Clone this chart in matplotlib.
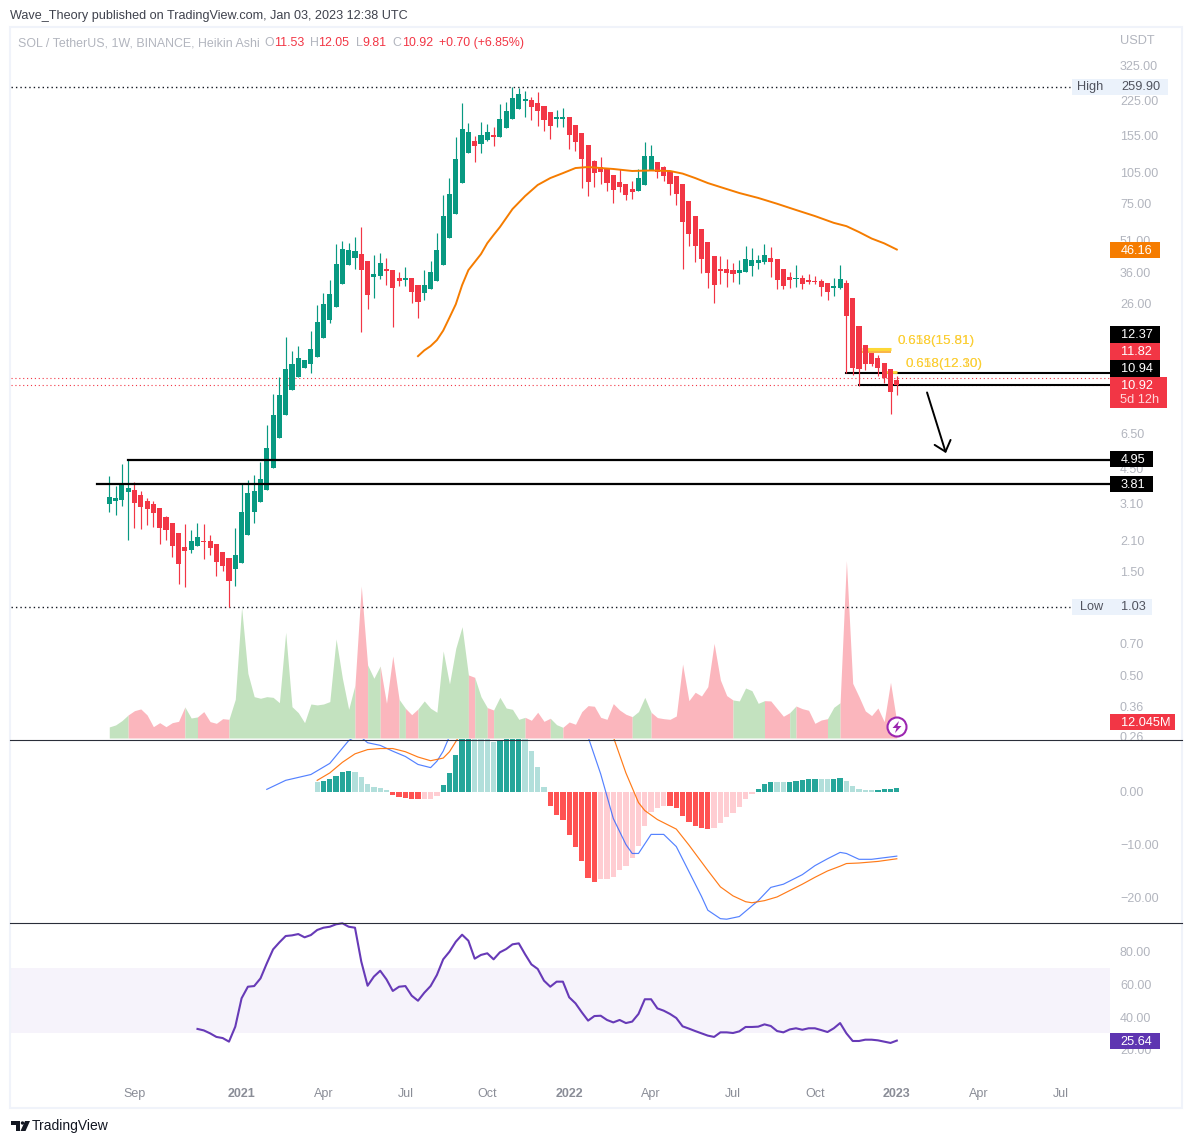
import matplotlib
matplotlib.use('Agg')
import matplotlib.pyplot as plt
from matplotlib.lines import Line2D
from matplotlib.patches import Rectangle, Circle, Polygon
from matplotlib.ticker import NullLocator
import numpy as np

plt.rcParams['font.family'] = ['Liberation Sans', 'DejaVu Sans']

# Weekly Heikin Ashi candles, one value per week
opens = [3.09, 3.19, 3.23, 3.51, 3.59, 3.40, 3.19, 3.09, 2.96, 2.69,
         2.52, 2.27, 1.95, 1.89, 1.97, 2.08, 2.08, 2.01, 1.85, 1.74,
         1.55, 1.65, 2.22, 2.84, 3.16, 3.59, 4.52, 6.22, 7.95, 10.36,
         11.9, 13.1, 13.64, 14.7, 18.0, 21.8, 25.05, 32.0, 39.1, 42.1,
         44.0, 40.8, 34.5, 34.8, 37.5, 37.1, 34.1, 33.4, 34.1, 31.7,
         29.1, 30.3, 33.1, 39.1, 52.1, 67.3, 93.6, 128.8, 146.3, 141.7,
         148, 155.9, 152.7, 168, 184.9, 205.7, 223.9, 226.4, 219.2, 212.4,
         199.2, 184.9, 184.9, 188.9, 173.5, 159.3, 140.2, 118.3, 111, 108.7,
         101.9, 94.6, 92.6, 87.8, 86, 91.7, 107.5, 117, 111, 106.4,
         100.9, 92.6, 77.3, 65.9, 57.4, 50, 43.1, 37.5, 37.5, 37.1,
         35.9, 36.3, 38.7, 40, 40.4, 42.1, 41.7, 37.5, 34.5, 33.8,
         34.1, 33.4, 33.1, 33.1, 32.4, 30.7, 30.7, 32.4, 27.6, 20.47,
         16.71, 15.39, 14.55, 13.79, 12.97, 11.53]
closes = [3.33, 3.29, 3.86, 3.66, 3.12, 2.99, 2.93, 2.80, 2.39, 2.34,
          1.97, 1.63, 1.87, 2.08, 2.17, 2.06, 1.93, 1.67, 1.60, 1.36,
          1.79, 2.84, 3.47, 3.55, 4.02, 5.60, 7.95, 9.82, 12.97, 13.64,
          14.55, 14.24, 16.05, 21.3, 25.9, 28.8, 39.5, 46.4, 45.9, 45.4,
          37.1, 28.5, 35.5, 40.0, 36.7, 30.7, 33.1, 34.1, 29.4, 26.5,
          31.7, 36.3, 45.9, 65.9, 83.3, 120.8, 166.2, 161, 138.8, 155.9,
          161, 152.7, 184.9, 201.3, 231.2, 241.3, 228.8, 210.1, 201.3, 183,
          171.7, 188.9, 188.9, 155.9, 144.8, 120.8, 94.6, 104.1, 105.2, 93.6,
          86.9, 89.7, 82.3, 85.1, 98.7, 124.7, 124.7, 105.2, 100.9, 92.6,
          83.3, 61.8, 54.4, 47.9, 41.7, 35.9, 31.7, 36.7, 35.9, 35.5,
          37.1, 41.7, 41.3, 41.3, 43.5, 40.4, 33.4, 31.4, 33.4, 34.1,
          32, 32.7, 32.7, 31, 29.4, 31.4, 33.8, 22.8, 13.1, 12.97,
          13.64, 13.64, 13.11, 11.77, 10.15, 10.92]
highs = [4.16, 3.74, 4.72, 4.98, 3.90, 3.55, 3.29, 3.19, 2.96, 2.72,
         2.52, 2.27, 2.50, 2.34, 2.52, 2.50, 2.22, 2.01, 1.85, 1.74,
         2.39, 3.81, 3.98, 4.20, 4.83, 7.14, 9.93, 11.9, 18.2, 15.7,
         16.54, 14.24, 19.4, 25.6, 29.1, 33.4, 48.9, 50.5, 49.4, 52.7,
         58.6, 40.8, 43.5, 44.5, 42.1, 37.1, 36.3, 38.3, 34.1, 31.7,
         37.1, 40.8, 55, 82.3, 98.7, 152.7, 219, 177.2, 154.3, 179,
         175.3, 169.8, 216.9, 221.6, 259.9, 257.1, 249, 233.7, 246.4, 212.4,
         199.2, 203.5, 207.9, 188.9, 173.5, 159.3, 140.2, 119.5, 123.4, 108.7,
         101.9, 108.7, 92.6, 95.6, 108.7, 144.8, 140.2, 117, 112.2, 106.4,
         100.9, 92.6, 77.3, 65.9, 57.4, 50, 43.1, 43.1, 41.7, 40,
         41.3, 47.9, 46.9, 43.5, 48.9, 47.4, 41.7, 37.5, 36.3, 39.1,
         35.2, 35.5, 34.8, 33.8, 32.4, 34.1, 39.1, 33.4, 27.6, 20.47,
         16.71, 15.39, 15.06, 13.79, 12.97, 12.05]
lows = [2.84, 2.75, 3.03, 2.10, 2.39, 2.37, 2.47, 2.42, 2.01, 2.10,
        1.76, 1.32, 1.28, 1.83, 1.97, 1.72, 1.79, 1.44, 1.51, 1.03,
        1.29, 1.65, 2.22, 2.52, 3.16, 3.59, 4.52, 6.22, 7.95, 10.36,
        11.9, 13.1, 12.43, 14.7, 18, 21.1, 25.05, 32, 39.1, 37.5,
        19.2, 24.5, 27.6, 33.8, 31.7, 20.25, 31.4, 31.4, 26.2, 22.3,
        27, 30.3, 33.1, 39.1, 52.1, 67.3, 93.6, 128.8, 117, 128.8,
        146.3, 138.8, 152.7, 168, 184.9, 205.7, 188.9, 183, 171.7, 162.7,
        149.5, 169.8, 169.8, 134.4, 131.6, 88.8, 81.5, 89.7, 92.6, 86,
        75.7, 85.1, 78.2, 79, 86, 91.7, 107.5, 98.7, 95.6, 82.3,
        74.1, 37.5, 47.9, 40.4, 35.9, 30.7, 26.2, 32, 31, 32.7,
        32, 36.3, 34.8, 37.5, 39.5, 34.5, 30.3, 30.3, 30.7, 31,
        30.3, 32, 32, 28.2, 27, 28.2, 30.3, 12.43, 12.17, 10.82,
        12.84, 13.39, 12.03, 11.2, 8.04, 9.81]

# Moving average, read at these weeks
ma_weeks = [49, 50, 51, 52, 53, 54, 55, 56, 57, 58, 59, 60, 61, 62, 64, 66, 68, 70, 72, 74, 76, 78, 80,
            83, 86, 89, 91, 93, 95, 97, 100, 103, 106, 109, 112, 115, 117, 119, 121, 123, 125]
ma_values = [14.86, 15.8, 16.54, 17.63, 19.5, 22.4, 25.8, 31.6, 37.1, 40.4, 44, 49.4, 53.9, 58.6, 71, 81.5, 91.7, 98.7, 104, 109.8, 111, 109.8, 108.7,
             106.4, 107, 106.4, 103.5, 98.7, 93.6, 89.7, 84.2, 79.9, 75.1, 70.3, 65.9, 61.3, 59.2, 55.6, 51.9, 49.3, 46.16]

# Volume in millions, one value per week
volume = [8.3, 9.8, 13, 17.3, 20.5, 21.8, 17.3, 8.5, 11.5, 8.5,
          11.5, 12.5, 23.3, 15, 15.8, 19.8, 12.3, 11, 14.5, 14,
          29, 98, 48.5, 31, 29.8, 31, 30.5, 26.5, 79.3, 23.5,
          19, 11.5, 25.5, 24.8, 25.5, 27.3, 74.3, 44.8, 21.5, 39.8,
          114, 54.8, 44.8, 54, 26, 61.5, 29, 22.3, 17.5, 21.8,
          27.8, 22.3, 19.3, 65.3, 40.5, 67.3, 83.5, 47.3, 45.5, 31,
          22.8, 21, 30.5, 22.5, 21.5, 14, 15.5, 13.3, 19.3, 12.5,
          14.8, 10, 8, 12, 10.3, 19.8, 24.3, 23.8, 15.5, 14,
          25.8, 21, 17.8, 16, 19.8, 30.5, 19.3, 15.3, 14.5, 14,
          16.5, 55.5, 28, 34.3, 31.5, 38.5, 71, 43.5, 31.8, 28.5,
          27.8, 37.5, 35.5, 26, 28, 27.8, 22, 16.3, 19, 24,
          22, 20.8, 11, 13.5, 14.5, 23, 26.5, 133, 41, 31,
          20.3, 16.8, 22.5, 12.3, 41.8, 12.045]
vol_red_spans = [(3, 12), (14, 19), (39, 41), (43, 46), (47, 49), (57, 58), (60, 61),
                 (66, 70), (72, 83), (86, 99), (104, 108), (109, 114), (116, 125)]

# MACD histogram starts at week 33
hist_start = 33
hist_values = [1.95, 2.1, 2.5, 3.1, 3.8, 4.0, 3.8, 2.9, 1.6, 1.0, 0.8, 0.4,
               -0.5, -0.9, -1.1, -1.4, -1.4, -1.4, -1.4, -0.7,
               1.4, 3.5, 6.9, 10.5, 12, 12, 11, 10.5, 9.5, 9.7, 11, 11.5, 11, 10.5,
               7.8, 4.8, 1.0, -2.6, -4.3, -5.2, -8.1, -10.3, -13.1, -16.2, -16.9,
               -16.5, -16.4, -16, -14.8, -13.9, -12.4, -10.1, -6.4, -3.7, -3, -2.6,
               -2.6, -3.1, -4.5, -5.6, -6.4, -6.7, -6.9, -6.7, -5.8, -4.8, -3.9, -2.8, -1.4, -0.3,
               0.6, 1.6, 1.9, 1.9, 1.8, 1.9, 2.1, 2.3, 2.5, 2.5, 2.5, 2.5, 2.5, 2.7,
               2.1, 1.2, 0.6, 0.4, 0.4, 0.4, 0.6, 0.6, 0.8]
hist_light_weeks = [33, 39, 40, 41, 42, 43, 44, 50, 51, 52, 58, 59, 60, 61, 66, 67, 68, 69,
                    78, 79, 80, 81, 82, 83, 84, 85, 86, 87, 88, 96, 97, 98, 99, 100, 101, 102,
                    106, 107, 113, 114, 117, 118, 119, 120, 121]

macd_weeks = [25, 28, 32, 35, 38, 39, 40, 41, 43, 45, 47, 49, 51, 52, 53, 54, 56, 60, 65, 70, 74, 76,
              78, 80, 82, 83, 84, 86, 88, 90, 92, 94, 95, 97, 98, 100, 103, 105, 107, 110, 112, 114,
              116, 117, 119, 121, 123, 125]
macd_values = [0.5, 2.2, 3.3, 5.4, 9.7, 10.4, 10.3, 9.3, 8.8, 7.7, 6.7, 5.2, 4.6, 5.8, 7.7, 10.5, 14, 20, 25, 24, 16, 10.4,
               3.4, -5, -9.9, -11.6, -11.6, -8, -8, -10.3, -15, -19.7, -22.3, -23.9, -24, -23.5, -20.5, -18, -17.4, -15.6, -13.9, -12.6,
               -11.4, -11.6, -12.7, -12.7, -12.4, -12.1]
signal_weeks = [33, 35, 37, 39, 41, 43, 45, 47, 49, 51, 53, 54, 55, 56, 60, 65, 70, 75, 80, 82, 84, 85,
                87, 90, 92, 95, 97, 99, 101, 102, 104, 106, 108, 110, 112, 114, 116, 117, 119, 122, 125]
signal_values = [2.2, 3.6, 5.6, 7.2, 8, 8.2, 8.2, 7.6, 6.6, 5.9, 6.4, 7.6, 9.5, 11.5, 17, 24, 26, 20, 10.4, 3.6, -2, -3.5,
                 -5.2, -7, -10, -14.8, -17.9, -19.6, -20.7, -20.9, -20.5, -19.8, -18.6, -17.4, -16.1, -14.9, -14, -13.5, -13.4, -13.1, -12.6]

# RSI starts at week 14
rsi_start = 14
rsi_values = [32.8, 31.9, 30.1, 27.9, 27.2, 25.0, 34.2, 51.6, 58.7, 59.1, 63.8, 73, 81.6, 85.9, 89.8, 90.2,
              91, 89, 90.4, 93.5, 94.9, 95.5, 97, 97.6, 95.5, 94.9, 74.1, 59.3, 64.9, 68.5, 63.2, 56.1,
              58.7, 59.1, 53.2, 50.1, 55, 59.1, 65.9, 75.5, 80.2, 86.3, 90.6, 86.9, 75.9, 78.2, 79.2, 75.5,
              79.8, 81.8, 84.7, 85.3, 78.6, 72.4, 69.6, 62.4, 58.7, 61.8, 61.8, 52.2, 48.5, 43, 37.9, 40.7,
              40.9, 38.3, 36.8, 38.3, 36.4, 37.3, 42, 51, 51, 45.4, 44, 42, 39.5, 34.4, 33, 31.5,
              30.1, 28.7, 27.9, 30.7, 30.7, 30.3, 31.3, 34, 34, 34.2, 35.6, 34.6, 31.5, 30.7, 32.5, 33.2,
              32.3, 33.2, 33.2, 32.1, 30.9, 33.2, 36.4, 30.1, 25.4, 25.4, 26.2, 26.2, 25.8, 25, 24.2, 25.64]

# Axis labels
time_ticks = [4, 21, 34, 47, 60, 73, 86, 99, 112, 125, 138, 151]
time_labels = ['Sep', '2021', 'Apr', 'Jul', 'Oct', '2022', 'Apr', 'Jul', 'Oct', '2023', 'Apr', 'Jul']
price_ticks = [325, 225, 155, 105, 75, 51, 36, 26, 6.5, 4.5, 3.1, 2.1, 1.5, 0.7, 0.5, 0.36, 0.26]
macd_ticks = [0, -10, -20]
rsi_ticks = [80, 60, 40, 20]

GREEN = '#089981'
RED = '#f23645'
TICK_GRAY = '#b2b5be'
TIME_GRAY = '#8a8d97'
W = 1192
H = 1143
X0 = 11
X1 = 1110


def pane(top, bottom):
    return [X0 / W, 1 - bottom / H, (X1 - X0) / W, (bottom - top) / H]


fig = plt.figure(figsize=(W / 100, H / 100), dpi=100)
fig.patch.set_facecolor('white')

weeks = np.arange(len(opens))
xlim = (-15.6, 158.84)

# Price pane
ax_price = fig.add_axes(pane(28, 739))
ax_vol = ax_price.twinx()
ax_price.set_zorder(2)
ax_vol.set_zorder(1)
ax_price.patch.set_visible(False)

for i in weeks:
    up = closes[i] >= opens[i]
    color = GREEN if up else RED
    ax_price.vlines(i, lows[i], highs[i], color=color, lw=0.85, zorder=3)
    ax_price.bar(i, abs(closes[i] - opens[i]), bottom=min(opens[i], closes[i]), width=0.8,
                 color=color, lw=0, zorder=3)

ax_price.plot(ma_weeks, ma_values, color='#f57c00', lw=1.4, zorder=4)

# Levels
ax_price.plot([xlim[0], 152.5], [259.9, 259.9], color='#131722', lw=1, ls=(0, (1, 2.2)), zorder=2)
ax_price.plot([xlim[0], 152.5], [1.03, 1.03], color='#131722', lw=1, ls=(0, (1, 2.2)), zorder=2)
ax_price.axhline(11.82, color=RED, lw=0.8, ls=(0, (1, 2.5)), zorder=2)
ax_price.axhline(10.92, color=RED, lw=0.8, ls=(0, (1, 2.5)), zorder=2)
ax_price.plot([3, xlim[1]], [4.95, 4.95], color='black', lw=1.6, zorder=5)
ax_price.plot([-2, xlim[1]], [3.81, 3.81], color='black', lw=1.6, zorder=5)
ax_price.plot([117, xlim[1]], [12.37, 12.37], color='black', lw=1.5, zorder=2)
ax_price.plot([119, xlim[1]], [10.94, 10.94], color='black', lw=1.5, zorder=2)

# Fibonacci marks
ax_price.plot([119.5, 124], [16.1, 16.1], color='#fdd835', lw=2.2, zorder=2, solid_capstyle='butt')
ax_price.plot([119.5, 124], [15.6, 15.6], color='#f9a825', lw=1.2, zorder=2, solid_capstyle='butt')
ax_price.plot([123, 125], [12.5, 12.5], color='#fdd835', lw=2, zorder=2, solid_capstyle='butt')

ax_price.annotate('', xy=(132.8, 5.3), xytext=(129.8, 10.1),
                  arrowprops=dict(arrowstyle='->,head_length=0.7,head_width=0.6', color='black',
                                  lw=1.4, shrinkA=0, shrinkB=0), zorder=6)

ax_price.set_yscale('log')
ax_price.set_xlim(xlim)
ax_price.set_ylim(0.2537, 486.6)
ax_price.yaxis.tick_right()
ax_price.set_yticks(price_ticks)
ax_price.set_yticklabels(['%.2f' % t for t in price_ticks])
ax_price.yaxis.set_minor_locator(NullLocator())
ax_price.set_xticks([])

# Volume overlay
is_red = np.zeros(len(volume) - 1, dtype=bool)
for start, end in vol_red_spans:
    is_red[start:end] = True
start = 0
for k in range(1, len(is_red) + 1):
    if k == len(is_red) or is_red[k] != is_red[start]:
        ax_vol.fill_between(weeks[start:k + 1], 0, volume[start:k + 1],
                            color='#fbb6bd' if is_red[start] else '#c3e2bf', lw=0)
        start = k
ax_vol.set_ylim(-0.75, 532.5)
ax_vol.set_xlim(xlim)
ax_vol.set_yticks([])

# MACD pane
ax_macd = fig.add_axes(pane(739, 922))
hist_weeks = np.arange(hist_start, hist_start + len(hist_values))
hist_colors = []
for w, v in zip(hist_weeks, hist_values):
    light = w in hist_light_weeks
    if v >= 0:
        hist_colors.append('#b2dfdb' if light else '#26a69a')
    else:
        hist_colors.append('#ffcdd2' if light else '#ff5252')
ax_macd.bar(hist_weeks, hist_values, width=0.85, color=hist_colors, lw=0)
ax_macd.plot(macd_weeks, macd_values, color='#2962ff', lw=0.85, alpha=0.8)
ax_macd.plot(signal_weeks, signal_values, color='#ff6d00', lw=0.85, alpha=0.9)
ax_macd.set_xlim(xlim)
ax_macd.set_ylim(-24.53, 10)
ax_macd.yaxis.tick_right()
ax_macd.set_yticks(macd_ticks)
ax_macd.set_yticklabels([('%.2f' % t).replace('-', '\u2212') for t in macd_ticks])
ax_macd.set_xticks([])

# RSI pane
ax_rsi = fig.add_axes(pane(922, 1080))
ax_rsi.axhspan(30, 70, color='#f6f3fb', lw=0)
rsi_weeks = np.arange(rsi_start, rsi_start + len(rsi_values))
ax_rsi.plot(rsi_weeks, rsi_values, color='#673ab7', lw=1.5)
ax_rsi.set_xlim(xlim)
ax_rsi.set_ylim(1.47, 98.4)
ax_rsi.yaxis.tick_right()
ax_rsi.set_yticks(rsi_ticks)
ax_rsi.set_yticklabels(['%.2f' % t for t in rsi_ticks])
ax_rsi.set_xticks(time_ticks)
ax_rsi.set_xticklabels(time_labels)
for label in ax_rsi.get_xticklabels():
    label.set_color(TIME_GRAY)
    if label.get_text().isdigit():
        label.set_fontweight('bold')
ax_rsi.tick_params(axis='x', length=0, pad=5.5, labelsize=9)

for ax in [ax_price, ax_vol, ax_macd, ax_rsi]:
    for spine in ax.spines.values():
        spine.set_visible(False)
for ax in [ax_price, ax_macd, ax_rsi]:
    ax.tick_params(axis='y', which='both', length=0, pad=7.2, labelsize=9, labelcolor=TICK_GRAY)

# Overlay in pixels for frame, header and price tags
over = fig.add_axes([0, 0, 1, 1], zorder=10)
over.set_xlim(0, W)
over.set_ylim(H, 0)
over.axis('off')
over.patch.set_visible(False)

over.add_patch(Rectangle((10, 27), 1172, 1081, fill=False, ec='#f0f3fa', lw=1.5))
over.add_line(Line2D([10, 1182], [739.5, 739.5], color='#2a2e39', lw=0.8))
over.add_line(Line2D([10, 1182], [922.5, 922.5], color='#2a2e39', lw=0.8))


def tag(text, y0, y1, x1, bg, fg='white'):
    over.add_patch(Rectangle((1110, y0), x1 - 1110, y1 - y0, fc=bg, ec='none'))
    over.text(1120.5, (y0 + y1) / 2 + 0.8, text, color=fg, fontsize=9.2, va='center', ha='left')


tag('46.16', 242, 258, 1160, '#f57c00')
tag('12.37', 326, 343, 1160, 'black')
tag('11.82', 343, 360, 1160, RED)
tag('10.94', 360, 377, 1160, 'black')
over.add_patch(Rectangle((1110, 377), 57, 31, fc=RED, ec='none'))
over.text(1120.5, 386, '10.92', color='white', fontsize=9.2, va='center')
over.text(1120.5, 400, '5d 12h', color='#ffd6da', fontsize=9.2, va='center')
tag('4.95', 451, 467, 1153, 'black')
tag('3.81', 476, 492, 1153, 'black')
tag('12.045M', 714, 730, 1175, RED)
tag('25.64', 1033, 1049, 1160, '#5e35b1')

# High and Low labels
over.add_patch(Rectangle((1072, 79), 96, 16, fc='#ebf2fb', ec='none'))
over.text(1077, 87, 'High', color='#50535e', fontsize=9.2, va='center')
over.text(1121, 87, '259.90', color='#50535e', fontsize=9.2, va='center')
over.add_patch(Rectangle((1072, 599), 80, 16, fc='#ebf2fb', ec='none'))
over.text(1080, 607.5, 'Low', color='#50535e', fontsize=9.2, va='center')
over.text(1121, 607.5, '1.03', color='#50535e', fontsize=9.2, va='center')

# Overlapping fib labels, stacked the same way in the reference
over.text(898, 341, '0.618(15.81)', color='#f9bf2d', fontsize=9.7, va='center')
over.text(898, 341, '0.658(15.51)', color='#fdd835', fontsize=9.7, va='center', alpha=0.7)
over.text(905, 364, '0.618(12.30)', color='#f9bf2d', fontsize=9.7, va='center')
over.text(905, 364, '0.658(12.10)', color='#fdd835', fontsize=9.7, va='center', alpha=0.7)

# Header
over.text(10, 15.5, 'Wave_Theory published on TradingView.com, Jan 03, 2023 12:38 UTC', color='#3f424d',
          fontsize=9.1, va='center')
over.text(18, 43, 'SOL / TetherUS, 1W, BINANCE, Heikin Ashi', color=TICK_GRAY, fontsize=8.9, va='center')
for x, text, color in [(264.5, 'O', TICK_GRAY), (274, '11.53', RED), (310, 'H', TICK_GRAY), (318.5, '12.05', RED),
                       (356, 'L', TICK_GRAY), (362, '9.81', RED), (392.6, 'C', TICK_GRAY), (402, '10.92', RED),
                       (439, '+0.70 (+6.85%)', RED)]:
    over.text(x, 43, text, color=color, fontsize=8.9, va='center')
over.text(1120, 41, 'USDT', color=TICK_GRAY, fontsize=9.2, va='center')

# Lightning icon
over.add_patch(Circle((897, 727), 9.5, fc='white', ec='#9c27b0', lw=1.5))
over.add_patch(Polygon([(899, 721), (892.5, 728), (896.5, 728), (895, 733), (901.5, 726), (897.5, 726)],
                       fc='#9c27b0', ec='none'))

# TradingView logo
over.add_patch(Polygon([(11, 1121), (20, 1121), (20, 1131), (15.5, 1131), (15.5, 1125), (11, 1125)], fc='#131722', ec='none'))
over.add_patch(Circle((22.5, 1123), 1.7, fc='#131722', ec='none'))
over.add_patch(Polygon([(25, 1121), (30, 1121), (25.5, 1131), (20.5, 1131)], fc='#131722', ec='none'))
over.text(32, 1126, 'TradingView', color='#131722', fontsize=10, va='center')

fig.savefig('out.png', dpi=100)
